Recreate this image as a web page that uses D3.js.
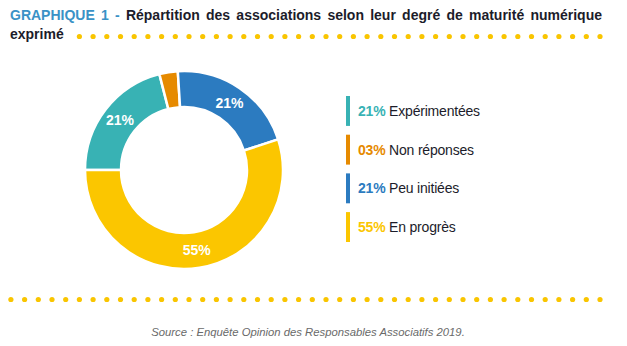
<!DOCTYPE html>
<meta charset="utf-8">
<style>
  body { margin: 0; background: #fff; }
  svg text { font-family: "Liberation Sans", Arial, sans-serif; }
</style>
<body>
<div id="chart"></div>

<script src="https://cdn.jsdelivr.net/npm/d3@7"></script>
<script>
  // data
  var categories = ["Expérimentées", "Non réponses", "Peu initiées", "En progrès"];
  var values = [21, 3, 21, 55];
  var percentLabels = ["21%", "03%", "21%", "55%"];
  var colors = ["#38b2b4", "#e68a00", "#2c7bc0", "#fbc600"];

  var titleLead = "GRAPHIQUE 1 -";
  var titleLine1 = "Répartition des associations selon leur degré de maturité numérique";
  var titleLine2 = "exprimé";
  var source = "Source : Enquête Opinion des Responsables Associatifs 2019.";

  var width = 627, height = 346;
  var yellow = "#f9c500";

  var svg = d3.select("#chart").append("svg")
    .attr("width", width)
    .attr("height", height)
    .attr("viewBox", "0 0 " + width + " " + height);

  // title, first line justified word by word
  var words = titleLead.split(" ").map(function (w) { return { w: w, lead: true }; })
    .concat(titleLine1.split(" ").map(function (w) { return { w: w, lead: false }; }));
  var title = svg.append("g");
  var wordNodes = title.selectAll("text.word")
    .data(words)
    .join("text")
    .attr("class", "word")
    .attr("y", 20)
    .attr("font-size", 14)
    .attr("font-weight", "bold")
    .attr("fill", function (d) { return d.lead ? "#3a92c6" : "#1c1c2a"; })
    .text(function (d) { return d.w; });

  var left = 10, right = 602;
  var widths = [];
  wordNodes.each(function () { widths.push(this.getComputedTextLength()); });
  var gap = (right - left - d3.sum(widths)) / (words.length - 1);
  var cursor = left;
  wordNodes.attr("x", function (d, i) {
    var x = cursor;
    cursor += widths[i] + gap;
    return x;
  });

  var line2 = title.append("text")
    .attr("x", left)
    .attr("y", 39)
    .attr("font-size", 14)
    .attr("font-weight", "bold")
    .attr("fill", "#1c1c2a")
    .text(titleLine2);

  // dotted rules
  function dots(x0, x1, y, step) {
    var n = Math.floor((x1 - x0) / step);
    var xs = d3.range(n + 1).map(function (i) { return x1 - i * step; });
    svg.append("g").selectAll("circle")
      .data(xs)
      .join("circle")
      .attr("cx", function (d) { return d; })
      .attr("cy", y)
      .attr("r", 2.6)
      .attr("fill", yellow);
  }
  dots(left + line2.node().getComputedTextLength() + 10, 600, 36.5, 13.7);
  dots(10, 600, 299.5, 13.7);

  // donut
  var cx = 184, cy = 170, outerR = 99, innerR = 63;

  var pie = d3.pie()
    .sort(null)
    .startAngle(-Math.PI / 2)
    .endAngle(3 * Math.PI / 2)
    .value(function (d) { return d; });

  var arc = d3.arc().innerRadius(innerR).outerRadius(outerR);
  var arcs = pie(values);

  var donut = svg.append("g").attr("transform", "translate(" + cx + "," + cy + ")");

  donut.selectAll("path")
    .data(arcs)
    .join("path")
    .attr("d", arc)
    .attr("fill", function (d, i) { return colors[i]; })
    .attr("stroke", "#fff")
    .attr("stroke-width", 2.5)
    .attr("stroke-linejoin", "miter");

  donut.selectAll("text")
    .data(arcs.filter(function (d) { return d.value > 5; }))
    .join("text")
    .attr("transform", function (d) { return "translate(" + arc.centroid(d) + ")"; })
    .attr("dy", "0.35em")
    .attr("text-anchor", "middle")
    .attr("font-size", 14)
    .attr("font-weight", "bold")
    .attr("fill", "#fff")
    .text(function (d) { return d.value + "%"; });

  // legend
  var y = d3.scaleBand()
    .domain(categories)
    .range([96, 242])
    .paddingInner(0.227);

  var legend = svg.append("g").selectAll("g")
    .data(categories)
    .join("g")
    .attr("transform", function (d) { return "translate(346," + y(d) + ")"; });

  legend.append("rect")
    .attr("width", 4)
    .attr("height", y.bandwidth())
    .attr("fill", function (d, i) { return colors[i]; });

  var label = legend.append("text")
    .attr("x", 12)
    .attr("y", y.bandwidth() / 2)
    .attr("dy", "0.36em")
    .attr("font-size", 14)
    .attr("letter-spacing", -0.2);

  label.append("tspan")
    .attr("font-weight", "bold")
    .attr("fill", function (d, i) { return colors[i]; })
    .text(function (d, i) { return percentLabels[i]; });

  label.append("tspan")
    .attr("fill", "#1c1c2a")
    .text(function (d) { return " " + d; });

  // source
  svg.append("text")
    .attr("x", 308)
    .attr("y", 336)
    .attr("text-anchor", "middle")
    .attr("font-size", 11.3)
    .attr("font-style", "italic")
    .attr("fill", "#6a6a6a")
    .text(source);
</script>
</body>
